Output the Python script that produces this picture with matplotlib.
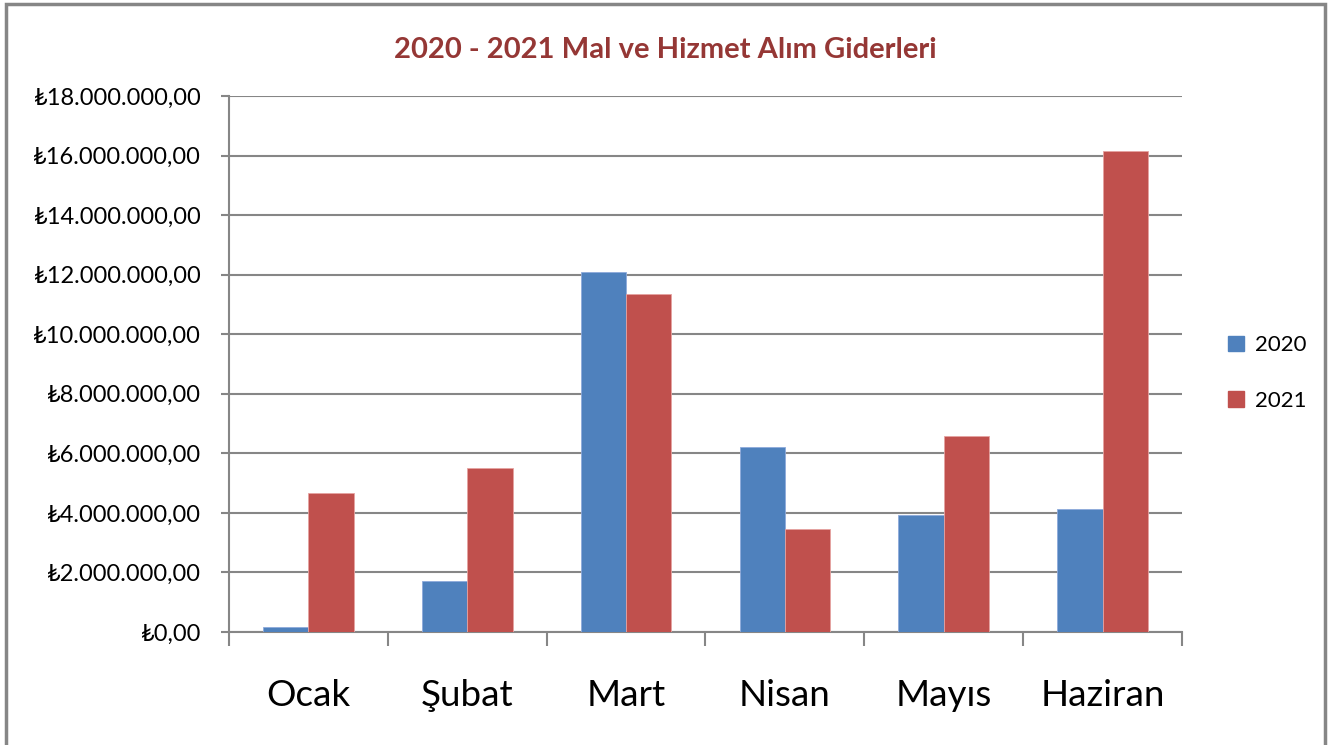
import numpy as np
import matplotlib.pyplot as plt
from matplotlib.patches import Rectangle, Patch
from matplotlib.ticker import FuncFormatter, MultipleLocator

plt.rcParams['font.family'] = ['Lato', 'DejaVu Sans']

months = ['Ocak', 'Şubat', 'Mart', 'Nisan', 'Mayıs', 'Haziran']
y2020 = [0.17e6, 1.70e6, 12.09e6, 6.21e6, 3.94e6, 4.12e6]
y2021 = [4.67e6, 5.50e6, 11.36e6, 3.47e6, 6.59e6, 16.16e6]
series_names = ['2020', '2021']

blue = '#4F81BD'
red = '#C0504D'
grid_col = '#868686'


def tl(v, pos):
    s = f'{v:,.2f}'
    s = s.replace(',', 'X').replace('.', ',').replace('X', '.')
    return '\u20ba' + s


fig = plt.figure(figsize=(13.3, 7.45), dpi=100)
ax = fig.add_axes([229/1330, 1-632/745, (1182-229)/1330, (632-96)/745])

x = np.arange(len(months))
w = 1/3.5
ax.bar(x - w/2, y2020, w, color=blue, edgecolor='#8EAADB', linewidth=0.6, zorder=3)
ax.bar(x + w/2, y2021, w, color=red, edgecolor='#E6A3A1', linewidth=0.6, zorder=3)

ax.set_xlim(-0.5, len(months) - 0.5)
ax.set_ylim(0, 18e6)
ax.yaxis.set_major_locator(MultipleLocator(2e6))
ax.yaxis.set_major_formatter(FuncFormatter(tl))
ax.grid(axis='y', color=grid_col, linewidth=1.5, zorder=0)
ax.set_axisbelow(True)

for s in ['top', 'right']:
    ax.spines[s].set_visible(False)
for s in ['left', 'bottom']:
    ax.spines[s].set_color(grid_col)
    ax.spines[s].set_linewidth(1.5)

ax.tick_params(axis='y', length=6, width=1.5, color=grid_col, labelsize=17, pad=14)
ax.set_xticks(x)
ax.set_xticklabels(months)
ax.tick_params(axis='x', which='major', length=0, labelsize=26.5, pad=34)
ax.set_xticks(np.arange(len(months) + 1) - 0.5, minor=True)
ax.tick_params(axis='x', which='minor', length=10, width=1.5, color=grid_col)

fig.text(0.5, 1 - 50/745, '2020 - 2021 Mal ve Hizmet Alım Giderleri',
         ha='center', va='center', fontsize=21, fontweight='bold', color='#953735')

handles = [Patch(color=blue), Patch(color=red)]
fig.legend(handles, series_names, loc='center left',
           bbox_to_anchor=(1208/1330, 1 - 373/745), frameon=False,
           fontsize=16, handlelength=0.7, handleheight=0.7, handletextpad=0.5,
           labelspacing=1.6)

fig.patches.append(Rectangle((6/1330, -0.05), (1325-6)/1330, 1.05 - 4/745,
                             transform=fig.transFigure, fill=False,
                             edgecolor='#868686', linewidth=2.5))

fig.savefig('out.png', dpi=100)
